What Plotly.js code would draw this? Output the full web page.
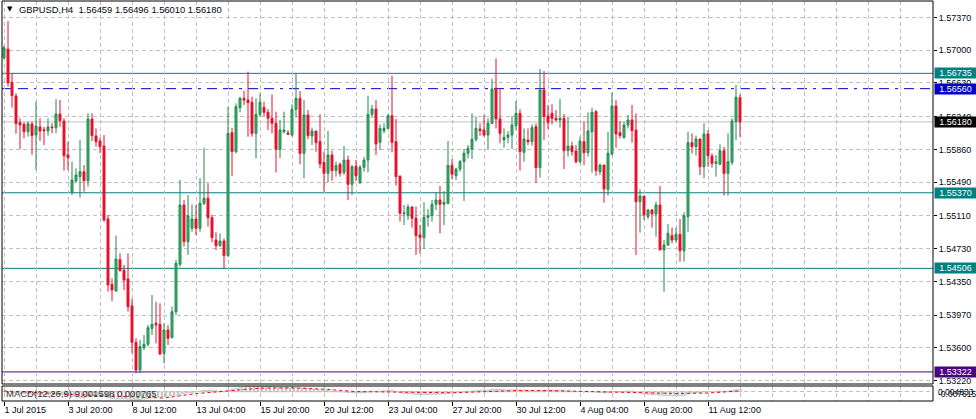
<!DOCTYPE html>
<html><head><meta charset="utf-8">
<script src="https://cdn.plot.ly/plotly-3.0.1.min.js"></script>
<style>html,body{margin:0;padding:0;background:#fff;}#chart{width:976px;height:419px;}</style>
</head><body><div id="chart"></div>
<script>
// ---- OHLC data, GBPUSD H4 (185 bars) ----
const openP = [1.56910,1.57013,1.56632,1.56476,1.56171,1.56152,1.56068,1.56156,1.56030,1.56122,1.56091,1.56076,1.56122,1.56114,1.56270,1.56190,1.55802,1.55375,1.55504,1.55554,1.55611,1.55508,1.56213,1.56019,1.55962,1.55904,1.55070,1.54324,1.54247,1.54605,1.54484,1.54384,1.54076,1.53660,1.53344,1.53599,1.53638,1.53820,1.53878,1.53866,1.53535,1.53801,1.53714,1.54011,1.54552,1.55230,1.54811,1.54963,1.55070,1.54963,1.55249,1.55307,1.55085,1.54830,1.54765,1.54819,1.54651,1.56057,1.55840,1.56343,1.56449,1.56430,1.56404,1.56049,1.56266,1.56346,1.56289,1.56221,1.56164,1.55866,1.56068,1.56053,1.56030,1.56323,1.56449,1.55821,1.56259,1.56019,1.56076,1.55954,1.55718,1.55592,1.55802,1.55623,1.55695,1.55603,1.55744,1.55466,1.55672,1.55485,1.55661,1.55744,1.56266,1.56327,1.55946,1.56080,1.56106,1.56251,1.55954,1.55562,1.55131,1.55108,1.55207,1.55078,1.54887,1.54857,1.55089,1.55108,1.55238,1.55287,1.55238,1.55249,1.55683,1.55565,1.55641,1.55725,1.55821,1.55870,1.55981,1.56099,1.56087,1.56030,1.56164,1.56564,1.56213,1.55973,1.56004,1.56030,1.56137,1.56278,1.55832,1.55973,1.55954,1.56125,1.55657,1.56545,1.56247,1.56278,1.56221,1.56202,1.56221,1.55851,1.55904,1.55847,1.55725,1.55954,1.55828,1.56068,1.56297,1.55611,1.55687,1.55409,1.55813,1.56362,1.56057,1.56000,1.56144,1.56202,1.56087,1.55268,1.55333,1.55097,1.55173,1.55127,1.55230,1.54716,1.54773,1.54880,1.54830,1.54895,1.54708,1.55097,1.55943,1.55897,1.55985,1.55668,1.56042,1.55790,1.55706,1.55695,1.55851,1.55592,1.55718,1.56183,1.56459];
const highP = [1.57050,1.57333,1.56735,1.56506,1.56221,1.56175,1.56183,1.56183,1.56411,1.56221,1.56125,1.56221,1.56164,1.56438,1.56430,1.56221,1.55954,1.55725,1.55649,1.55973,1.55687,1.56278,1.56278,1.56106,1.56000,1.56030,1.55116,1.54392,1.54880,1.54678,1.54544,1.54678,1.54156,1.53706,1.53687,1.53744,1.53858,1.54201,1.54125,1.54106,1.53878,1.53858,1.54068,1.54601,1.55516,1.55287,1.55344,1.55238,1.55230,1.55535,1.55885,1.55478,1.55116,1.54918,1.54906,1.54849,1.56354,1.56114,1.56392,1.56468,1.56533,1.56754,1.56468,1.56449,1.56506,1.56411,1.56327,1.56495,1.56297,1.56202,1.56297,1.56087,1.56381,1.56735,1.56533,1.56430,1.56316,1.56114,1.56076,1.56266,1.55840,1.56076,1.55851,1.55725,1.55718,1.55904,1.55794,1.55687,1.55744,1.55687,1.55783,1.56480,1.56373,1.56430,1.56152,1.56164,1.56266,1.56708,1.56213,1.55562,1.55230,1.55238,1.55215,1.55211,1.55001,1.55261,1.55184,1.55287,1.55375,1.55447,1.55390,1.55962,1.55756,1.55657,1.55744,1.55870,1.55916,1.56278,1.56240,1.56164,1.56259,1.56221,1.56670,1.56906,1.56564,1.56106,1.56076,1.56247,1.56419,1.56327,1.56106,1.56106,1.56152,1.56164,1.56785,1.56762,1.56373,1.56381,1.56316,1.56442,1.56270,1.56240,1.55954,1.55916,1.56011,1.56183,1.56289,1.56343,1.56316,1.55703,1.55687,1.56068,1.56518,1.56430,1.56190,1.56183,1.56259,1.56373,1.56278,1.55409,1.55333,1.55184,1.55184,1.55268,1.55447,1.54830,1.55013,1.54971,1.54971,1.55070,1.55146,1.56068,1.56049,1.56023,1.55985,1.56164,1.56087,1.55821,1.55802,1.55924,1.55897,1.56049,1.56221,1.56602,1.56496];
const lowP = [1.56900,1.56583,1.56343,1.56045,1.55870,1.55992,1.56011,1.55802,1.55630,1.55962,1.55916,1.56023,1.56049,1.56049,1.56125,1.55623,1.55630,1.55344,1.55485,1.55314,1.55382,1.55440,1.55962,1.55897,1.55821,1.55040,1.54240,1.54133,1.54240,1.54468,1.54259,1.54011,1.53535,1.53306,1.53306,1.53573,1.53611,1.53744,1.53649,1.53516,1.53420,1.53630,1.53706,1.53973,1.54525,1.54754,1.54659,1.54925,1.54887,1.54925,1.55230,1.54982,1.54803,1.54716,1.54754,1.54506,1.54640,1.55565,1.55821,1.56289,1.56373,1.56011,1.56011,1.55763,1.56240,1.56247,1.56087,1.56049,1.55603,1.55763,1.56049,1.56030,1.56011,1.56228,1.55695,1.55535,1.55981,1.55916,1.55840,1.55649,1.55382,1.55489,1.55508,1.55554,1.55554,1.55573,1.55287,1.55344,1.55504,1.55470,1.55611,1.55603,1.56228,1.55802,1.55859,1.56049,1.56099,1.55832,1.55451,1.55040,1.55001,1.55059,1.54971,1.54659,1.54678,1.54727,1.54982,1.55040,1.55173,1.54906,1.55001,1.55238,1.55527,1.55516,1.55611,1.55276,1.55763,1.55756,1.55954,1.56023,1.56011,1.55870,1.56152,1.56106,1.55935,1.55885,1.55935,1.55870,1.56087,1.55623,1.55725,1.55916,1.55908,1.55485,1.55543,1.55973,1.56099,1.56152,1.56183,1.56114,1.55641,1.55783,1.55794,1.55706,1.55706,1.55687,1.55783,1.55600,1.55565,1.55573,1.55257,1.55337,1.55794,1.55885,1.55992,1.55992,1.56106,1.55943,1.54659,1.54914,1.55059,1.55066,1.54971,1.54868,1.54716,1.54240,1.54765,1.54792,1.54803,1.54582,1.54582,1.54925,1.55821,1.55794,1.55573,1.55535,1.55668,1.55657,1.55554,1.55687,1.55337,1.55337,1.55687,1.55973,1.56010];
const closeP = [1.57028,1.56628,1.56480,1.56160,1.56144,1.56068,1.56160,1.56023,1.56133,1.56076,1.56080,1.56122,1.56114,1.56270,1.56194,1.55794,1.55771,1.55516,1.55573,1.55611,1.55508,1.56213,1.56023,1.55954,1.55897,1.55059,1.54317,1.54259,1.54613,1.54480,1.54373,1.54068,1.53660,1.53344,1.53611,1.53638,1.53828,1.53866,1.53858,1.53527,1.53801,1.53706,1.54011,1.54563,1.55230,1.54811,1.55108,1.55070,1.54963,1.55249,1.55307,1.55085,1.54857,1.54765,1.54819,1.54651,1.56049,1.55840,1.56354,1.56449,1.56430,1.56400,1.56049,1.56266,1.56404,1.56289,1.56221,1.56164,1.55866,1.56087,1.56087,1.56038,1.56323,1.56449,1.55821,1.56259,1.56023,1.56076,1.55943,1.55699,1.55592,1.55802,1.55623,1.55680,1.55592,1.55744,1.55466,1.55668,1.55565,1.55661,1.55744,1.56266,1.56327,1.55927,1.56106,1.56106,1.56251,1.55946,1.55554,1.55135,1.55139,1.55207,1.55078,1.54880,1.54857,1.55089,1.55108,1.55238,1.55287,1.55238,1.55261,1.55683,1.55581,1.55641,1.55725,1.55821,1.55878,1.55981,1.56106,1.56080,1.56030,1.56164,1.56556,1.56213,1.56049,1.56004,1.56030,1.56144,1.56278,1.55840,1.55985,1.55954,1.56114,1.55657,1.56545,1.56240,1.56175,1.56221,1.56202,1.56221,1.55851,1.55904,1.55840,1.55725,1.55962,1.55828,1.56076,1.56289,1.55623,1.55687,1.55413,1.55821,1.56362,1.56042,1.56023,1.56144,1.56202,1.56080,1.55268,1.55333,1.55116,1.55173,1.55127,1.55230,1.54716,1.54773,1.54906,1.54830,1.54895,1.54708,1.55108,1.55943,1.55897,1.55985,1.55668,1.56042,1.55794,1.55706,1.55725,1.55851,1.55592,1.55725,1.56190,1.56461,1.56180];

// ---- MACD(12,26,9) ----
const macdMain = [0.0004,0.0001,-0.0003,-0.0008,-0.0012,-0.0015,-0.0018,-0.0021,-0.0022,-0.0024,-0.0025,
-0.0026,-0.0026,-0.0024,-0.0023,-0.0027,-0.0030,-0.0038,-0.0043,-0.0046,-0.0048,
-0.0038,-0.0034,-0.0031,-0.0030,-0.0036,-0.0048,-0.0056,-0.0058,-0.0058,-0.0059,
-0.0060,-0.0064,-0.0066,-0.0064,-0.0060,-0.0055,-0.0050,-0.0046,-0.0042,-0.0040,
-0.0037,-0.0033,-0.0028,-0.0020,-0.0015,-0.0010,-0.0005,0.0000,0.0006,0.0011,
0.0012,0.0010,0.0008,0.0006,0.0002,0.0012,0.0018,0.0026,0.0034,0.0040,
0.0044,0.0046,0.0047,0.0048,0.0048,0.0047,0.0046,0.0040,0.0038,0.0036,
0.0034,0.0035,0.0036,0.0030,0.0031,0.0028,0.0026,0.0023,0.0018,0.0012,
0.0010,0.0006,0.0003,0.0000,-0.0001,-0.0005,-0.0006,-0.0008,-0.0009,-0.0008,
-0.0002,0.0004,0.0004,0.0006,0.0008,0.0011,0.0010,0.0003,-0.0006,-0.0012,
-0.0015,-0.0018,-0.0021,-0.0023,-0.0023,-0.0022,-0.0021,-0.0020,-0.0019,-0.0018,
-0.0013,-0.0010,-0.0007,-0.0004,-0.0001,0.0002,0.0005,0.0009,0.0011,0.0012,
0.0014,0.0019,0.0020,0.0019,0.0017,0.0016,0.0016,0.0018,0.0015,0.0014,
0.0012,0.0012,0.0008,0.0012,0.0013,0.0013,0.0014,0.0014,0.0014,0.0010,
0.0007,0.0005,0.0002,0.0002,-0.0001,0.0000,0.0003,-0.0002,-0.0005,-0.0009,
-0.0007,0.0000,0.0002,0.0003,0.0004,0.0006,0.0006,-0.0004,-0.0010,-0.0015,
-0.0019,-0.0022,-0.0024,-0.0028,-0.0030,-0.0031,-0.0032,-0.0031,-0.0032,-0.0028,
-0.0018,-0.0011,-0.0006,-0.0005,0.0000,0.0002,0.0003,0.0004,0.0006,0.0004,
0.0006,0.0010,0.0016,0.0016];
const signalIdx = [0,8,16,24,32,40,48,56,64,72,80,88,96,104,112,120,128,136,144,152,160,168,176,184];
const signalVal = [0.0008,-0.0008,-0.0020,-0.0032,-0.0045,-0.0052,-0.0015,0.0008,0.0030,0.0033,0.0022,0.0002,-0.0003,-0.0006,-0.0008,0.0001,0.0010,0.0010,0.0003,-0.0005,-0.0007,-0.0014,-0.0010,0.000765];

// ---- axis labels ----
const xTickIdx = [0,16,32,48,64,80,96,112,128,144,160,176];
const xTickText = ['1 Jul 2015','3 Jul 20:00','8 Jul 12:00','13 Jul 04:00','15 Jul 20:00','20 Jul 12:00','23 Jul 04:00','27 Jul 20:00','30 Jul 12:00','4 Aug 04:00','6 Aug 20:00','11 Aug 12:00'];
const yTickVals = [1.57370,1.57000,1.56630,1.56240,1.55860,1.55490,1.55110,1.54730,1.54350,1.53970,1.53600,1.53220];
const yTickText = ['1.57370','1.57000','1.56630','1.56240','1.55860','1.55490','1.55110','1.54730','1.54350','1.53970','1.53600','1.53220'];

// ---- horizontal levels ----
const levelVals = [1.56735,1.56560,1.56180,1.55370,1.54506,1.53322];
const levelText = ['1.56735','1.56560','1.56180','1.55370','1.54506','1.53322'];
const levelColor = ['#008080','#0000cd','#c0c0c0','#008080','#008080','#4b0082'];
const levelBg = ['#008080','#0000cd','#000000','#008080','#008080','#4b0082'];
const levelDash = ['solid','10px,6px,10px,6px,3px,6px','solid','solid','solid','solid'];

const titleText = 'GBPUSD,H4  1.56459 1.56496 1.56010 1.56180';
const macdText = 'MACD(12,26,9) 0.001598 0.000765';
const macdRange = ['0.004833', '-0.007615'];

const idx = openP.map((_, i) => i);
const FONT = 'Liberation Sans, Arial, sans-serif';
const TXT = '#000814';
const FS = 9;

// layout pixel geometry
const W = 976, H = 419, ML = 2, MR = 43, MT = 1, MB = 18;
const PW = W - ML - MR, PH = H - MT - MB;
const px2x = px => (px - ML) / PW;
const py2y = py => (MT + PH - py) / PH;

const traces = [
  {
    type: 'candlestick', x: idx, open: openP, high: highP, low: lowP, close: closeP,
    xaxis: 'x', yaxis: 'y',
    increasing: {line: {color: '#1f8a4c', width: 1}, fillcolor: '#3cb371'},
    decreasing: {line: {color: '#e8102c', width: 1}, fillcolor: '#e8102c'},
    whiskerwidth: 0, hoverinfo: 'skip', showlegend: false
  },
  {
    type: 'bar', x: idx, y: macdMain, xaxis: 'x', yaxis: 'y2',
    marker: {color: 'rgba(0,0,0,0)', line: {color: '#c0c0c0', width: 1}},
    hoverinfo: 'skip', showlegend: false
  },
  {
    type: 'scatter', mode: 'lines', x: signalIdx, y: signalVal, xaxis: 'x', yaxis: 'y2',
    line: {color: '#ff0000', width: 1, dash: '3px,3px'}, hoverinfo: 'skip', showlegend: false
  }
];

const shapes = [];
levelVals.forEach((v, k) => {
  shapes.push({type: 'line', xref: 'paper', yref: 'y', x0: 0, x1: 1, y0: v, y1: v,
    line: {color: levelColor[k], width: 1, dash: levelDash[k]}, layer: 'below'});
});
shapes.push({type: 'rect', xref: 'paper', yref: 'paper', x0: 0, x1: 1, y0: py2y(384), y1: 1,
  line: {color: '#000', width: 1}, fillcolor: 'rgba(0,0,0,0)', layer: 'above'});
shapes.push({type: 'rect', xref: 'paper', yref: 'paper', x0: 0, x1: 1, y0: 0, y1: py2y(386),
  line: {color: '#000', width: 1}, fillcolor: 'rgba(0,0,0,0)', layer: 'above'});

const annotations = [];
levelVals.forEach((v, k) => {
  annotations.push({xref: 'paper', yref: 'y', x: px2x(934), y: v, xanchor: 'left', yanchor: 'middle',
    text: levelText[k], showarrow: false, bgcolor: levelBg[k], font: {family: FONT, size: FS, color: '#ffffff'},
    width: 41, height: 10, align: 'center', borderpad: 0});
});
annotations.push({xref: 'paper', yref: 'paper', x: px2x(5), y: py2y(9), xanchor: 'left', yanchor: 'middle',
  text: '▼', showarrow: false, font: {family: 'DejaVu Sans', size: 7, color: '#000'}});
annotations.push({xref: 'paper', yref: 'paper', x: px2x(17), y: py2y(10), xanchor: 'left', yanchor: 'middle',
  text: titleText, showarrow: false, font: {family: FONT, size: 9.4, color: TXT}});
annotations.push({xref: 'paper', yref: 'paper', x: px2x(4), y: py2y(393), xanchor: 'left', yanchor: 'middle',
  text: macdText, showarrow: false, font: {family: FONT, size: 9.5, color: '#333333'}});
annotations.push({xref: 'paper', yref: 'paper', x: px2x(936), y: py2y(392), xanchor: 'left', yanchor: 'middle',
  text: macdRange[0], showarrow: false, font: {family: FONT, size: 8.5, color: TXT}});
annotations.push({xref: 'paper', yref: 'paper', x: px2x(936), y: py2y(394), xanchor: 'left', yanchor: 'middle',
  text: macdRange[1], showarrow: false, font: {family: FONT, size: 8.5, color: TXT}});

const mainBottom = py2y(384);
const macdTop = py2y(386);

const layout = {
  width: W, height: H,
  margin: {l: ML, r: MR, t: MT, b: MB, pad: 0},
  paper_bgcolor: '#ffffff', plot_bgcolor: '#ffffff',
  showlegend: false, dragmode: false, bargap: 0.3,
  font: {family: FONT, size: FS, color: TXT},
  xaxis: {
    anchor: 'y2', range: [-0.5, -0.5 + PW / 4], type: 'linear',
    tickmode: 'array', tickvals: xTickIdx, ticktext: xTickText,
    ticks: 'outside', ticklen: 4, tickcolor: '#000', tickwidth: 1,
    ticklabelposition: 'outside right',
    showgrid: true, gridcolor: '#c0c0c0', griddash: '4px,3px', gridwidth: 1,
    minor: {dtick: 8, tick0: 0, showgrid: true, gridcolor: '#c0c0c0', griddash: '4px,3px', ticks: ''},
    zeroline: false, showline: false, fixedrange: true,
    rangeslider: {visible: false},
    tickfont: {family: FONT, size: FS, color: TXT}
  },
  yaxis: {
    domain: [mainBottom, 1], side: 'right', range: [1.53184, 1.57562],
    tickmode: 'array', tickvals: yTickVals, ticktext: yTickText,
    ticks: 'outside', ticklen: 3, tickcolor: '#000',
    showgrid: true, gridcolor: '#c0c0c0', griddash: '4px,3px',
    zeroline: false, showline: false, fixedrange: true,
    tickfont: {family: FONT, size: FS, color: TXT}
  },
  yaxis2: {
    domain: [0, macdTop], side: 'right', range: [-0.0076, 0.0048],
    tickmode: 'array', tickvals: [0], ticktext: [''], ticks: '',
    showgrid: true, gridcolor: '#c0c0c0', griddash: '4px,3px',
    zeroline: false, showline: false, fixedrange: true, showticklabels: false
  },
  shapes: shapes,
  annotations: annotations
};

Plotly.newPlot('chart', traces, layout, {displayModeBar: false, staticPlot: true});
</script>
</body></html>
